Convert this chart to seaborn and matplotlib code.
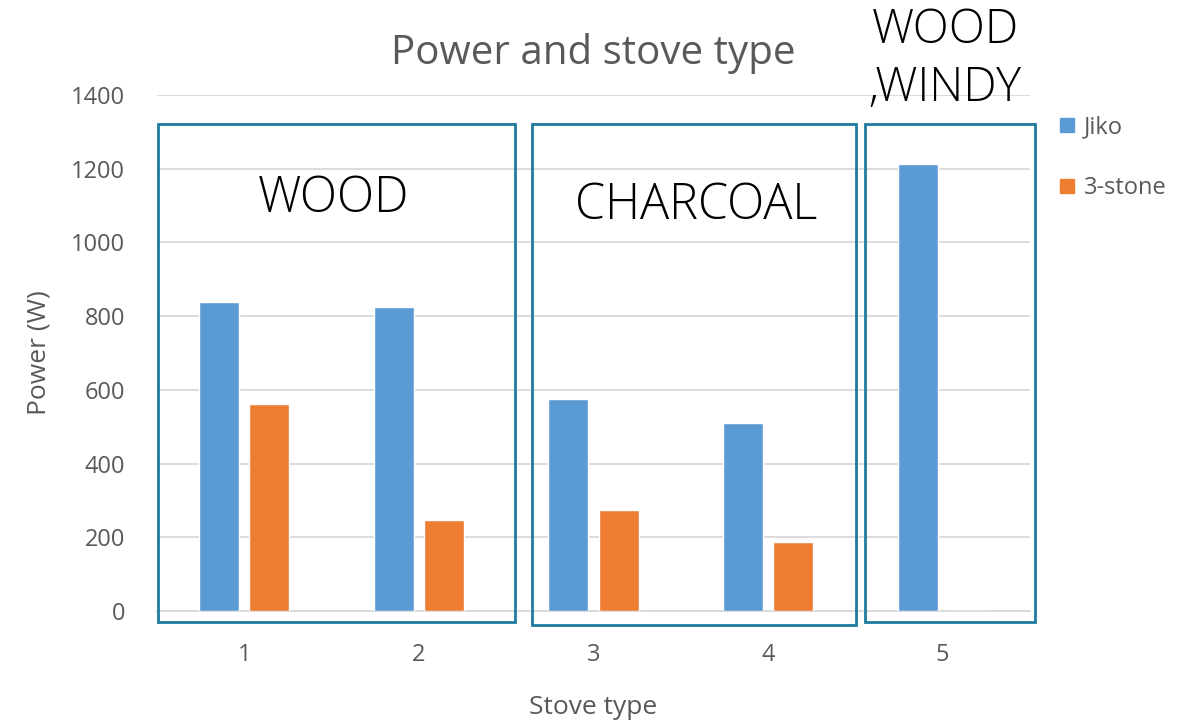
import matplotlib
matplotlib.use("Agg")
import matplotlib.pyplot as plt
from matplotlib.patches import Rectangle
from matplotlib.lines import Line2D
import seaborn as sns
import pandas as pd

# Data
stove_types = ["1", "2", "3", "4", "5"]
jiko_power = [839, 824, 575, 509, 1214]
three_stone_power = [561, 246, 274, 186, 0]
series_names = ["Jiko", "3-stone"]
series_colors = ["#5b9bd5", "#ed7d31"]
y_ticks = [0, 200, 400, 600, 800, 1000, 1200, 1400]

df = pd.DataFrame({
    "Stove type": stove_types * 2,
    "Power (W)": jiko_power + three_stone_power,
    "Stove": [series_names[0]] * len(stove_types) + [series_names[1]] * len(stove_types),
})

sns.set_theme(style="white")
plt.rcParams["font.family"] = ["Open Sans", "DejaVu Sans"]

grey = "#595959"
box_color = "#1f7aa0"

fig = plt.figure(figsize=(11.83, 7.25), dpi=100)
ax = fig.add_axes([157 / 1183, 1 - 611 / 725, 873 / 1183, 516 / 725])

sns.barplot(data=df, x="Stove type", y="Power (W)", hue="Stove",
            palette=series_colors, width=0.573, gap=0.2, ax=ax,
            legend=False, saturation=1, zorder=3)

ax.set_xlim(-0.5, 4.5)
ax.set_ylim(0, 1400)
ax.set_yticks(y_ticks)
ax.set_yticklabels([str(v) for v in y_ticks])
ax.yaxis.grid(True, color="#d9d9d9", linewidth=1.3, zorder=0)
ax.set_axisbelow(True)
for side in ["left", "right", "top"]:
    ax.spines[side].set_visible(False)
ax.spines["bottom"].set_color("#d9d9d9")
ax.spines["bottom"].set_linewidth(1.3)
ax.tick_params(axis="both", length=0, labelsize=17, labelcolor=grey)
ax.tick_params(axis="y", pad=23)
ax.tick_params(axis="x", pad=23)

ax.set_xlabel("Stove type", fontsize=19, color=grey, labelpad=20)
ax.set_ylabel("Power (W)", fontsize=19, color=grey, labelpad=14)
ax.set_title("Power and stove type", fontsize=29, color=grey, pad=22)

# Grouping frames around fuel conditions
frames = [(-0.493, 1.553, -30, 1321), (1.650, 3.501, -38, 1321), (3.553, 4.527, -30, 1321)]
for x0, x1, y0, y1 in frames:
    ax.add_patch(Rectangle((x0, y0), x1 - x0, y1 - y0, fill=False,
                           edgecolor=box_color, linewidth=2, clip_on=False, zorder=4))

label_font = dict(family=["Open Sans", "DejaVu Sans"], fontweight=300, color="black")
fig.text(334 / 1183, 1 - 199 / 725, "WOOD", fontsize=35, ha="center", va="center", **label_font)
fig.text(696 / 1183, 1 - 206 / 725, "CHARCOAL", fontsize=35, ha="center", va="center", **label_font)
fig.text(945 / 1183, 1 - 60 / 725, "WOOD\n,WINDY", fontsize=34, ha="center", va="center",
         linespacing=1.27, **label_font)

handles = [Line2D([0], [0], marker="s", linestyle="", markersize=10,
                  markerfacecolor=c, markeredgecolor=c) for c in series_colors]
fig.legend(handles, series_names, loc="upper left", bbox_to_anchor=(1034 / 1183, 1 - 94 / 725),
           frameon=False, fontsize=17, labelcolor=grey, labelspacing=1.55,
           handletextpad=0.2, handlelength=1.0)

fig.savefig("out.png", dpi=100)
